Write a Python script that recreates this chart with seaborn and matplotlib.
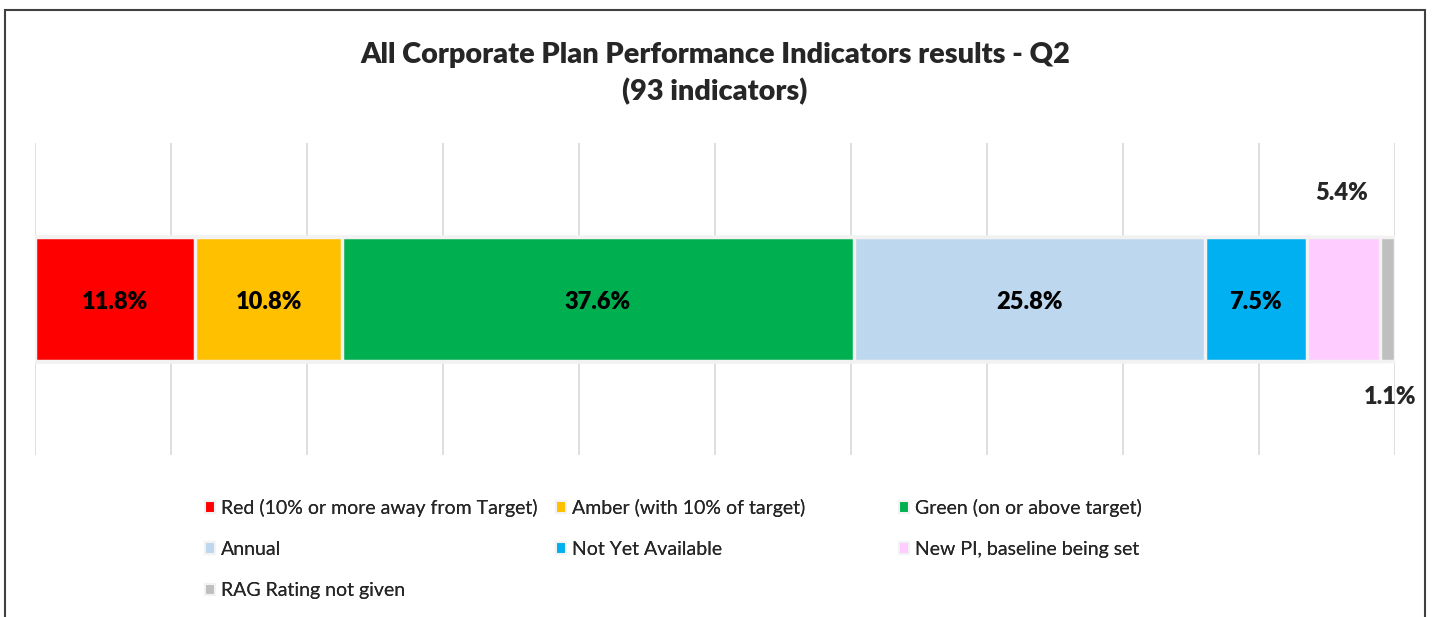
import matplotlib
matplotlib.use("Agg")
import matplotlib.pyplot as plt
import matplotlib.patches as mpatches
import seaborn as sns
import pandas as pd
import numpy as np

# Data
categories = ["Red (10% or more away from Target)", "Amber (with 10% of target)",
              "Green (on or above target)", "Annual", "Not Yet Available",
              "New PI, baseline being set", "RAG Rating not given"]
values = [11.8, 10.8, 37.6, 25.8, 7.5, 5.4, 1.1]
colors = ["#FF0000", "#FFC000", "#00B050", "#BDD7EE", "#00B0F0", "#FFCCFF", "#BFBFBF"]
labels = ["11.8%", "10.8%", "37.6%", "25.8%", "7.5%", "5.4%", "1.1%"]

sns.set_theme(style="white")
plt.rcParams["font.family"] = ["Lato", "DejaVu Sans"]

fig = plt.figure(figsize=(14.34, 6.17), dpi=100)
ax = fig.add_axes([35 / 1434, 1 - 455 / 617, 1360 / 1434, 312 / 617])

# stacked bar: draw cumulative widths from widest to narrowest
cum = np.cumsum(values)
for i in reversed(range(len(values))):
    df = pd.DataFrame({"value": [cum[i]], "row": ["Q2"]})
    sns.barplot(data=df, x="value", y="row", orient="h", color=colors[i],
                width=0.79, edgecolor="#F2F2F2", linewidth=2.5,
                saturation=1, ax=ax, zorder=3)

ax.set_xlim(0, 100)
ax.set_ylim(1, -1)
ax.set_xticks(np.arange(0, 101, 10))
ax.xaxis.grid(True, color="#D9D9D9", linewidth=1.2, zorder=0)
ax.yaxis.grid(False)
ax.set_xticklabels([])
ax.set_yticks([])
ax.set_xlabel("")
ax.set_ylabel("")
ax.tick_params(length=0)
for s in ax.spines.values():
    s.set_visible(False)

W = 800  # heavy weight, closer to Calibri Bold

# labels
starts = cum - np.array(values)
for i in range(5):
    ax.text(starts[i] + values[i] / 2, 0.02, labels[i], ha="center", va="center",
            fontsize=17, fontweight=W, color="black", zorder=5)
# the two thin segments have their labels moved outside the bar
ax.text(starts[5] + values[5] / 2 - 0.15, -0.68, labels[5], ha="center", va="center",
        fontsize=17, fontweight=W, zorder=5)
ax.text(starts[6] + values[6] / 2 + 0.2, 0.63, labels[6], ha="center", va="center",
        fontsize=17, fontweight=W, zorder=5)

fig.text(715 / 1434, 1 - 55 / 617, "All Corporate Plan Performance Indicators results - Q2",
         ha="center", va="center", fontsize=20.8, fontweight=W)
fig.text(715 / 1434, 1 - 92 / 617, "(93 indicators)",
         ha="center", va="center", fontsize=20.8, fontweight=W)

# legend as three fixed-width columns
handles = [mpatches.Patch(facecolor=c, edgecolor="#F2F2F2", linewidth=1.5) for c in colors]
col_groups = [[0, 3, 6], [1, 4], [2, 5]]
col_x = [195, 546, 889]
for grp, x in zip(col_groups, col_x):
    leg = fig.legend([handles[j] for j in grp], [categories[j] for j in grp],
                     loc="upper left", bbox_to_anchor=(x / 1434, 1 - 489 / 617),
                     frameon=False, fontsize=14, handlelength=0.55, handleheight=0.55,
                     handletextpad=0.3, labelspacing=1.25, borderpad=0)
    fig.add_artist(leg)

# outer chart border
fig.patches.append(mpatches.Rectangle((5 / 1434, -0.1), 1420 / 1434, 1.1 - 10 / 617,
                                      transform=fig.transFigure, fill=False,
                                      edgecolor="#404040", linewidth=1.5))

fig.savefig("out.png", dpi=100)
